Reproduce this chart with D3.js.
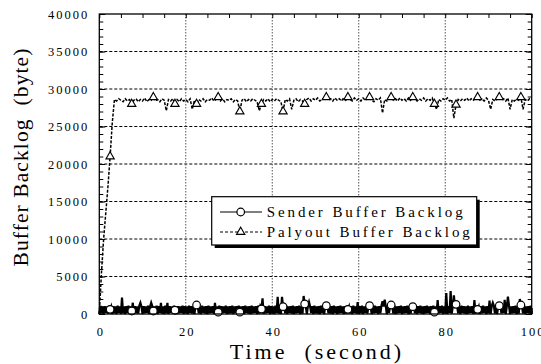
<!DOCTYPE html>
<html><head><meta charset="utf-8">
<script src="https://cdn.jsdelivr.net/npm/d3@7"></script>
<style>body{margin:0;background:#fff}svg{display:block}</style>
</head><body>
<svg id="c" width="541" height="364"></svg>
<script>
// ---- data ----
const seriesNames = ["Sender Buffer Backlog", "Palyout Buffer Backlog"];
const senderStep = 0.25;   // seconds between sender samples
const playoutStep = 0.5;   // seconds between playout samples
const xTicks = [0, 20, 40, 60, 80, 100];
const yTicks = [0, 5000, 10000, 15000, 20000, 25000, 30000, 35000, 40000];
const xTitle = "Time  (second)";
const yTitle = "Buffer Backlog  (byte)";

const senderValues = [
  0,1100,100,1000,0,1050,150,1000,50,1100, 620,1000,0,1050,100,1000,0,1100,150,1000,
  0,2200,100,1000,0,1050,150,1100,50,1000, 400,1500,0,1050,100,1000,50,1100,1500,1000,
  0,1050,100,1000,150,1100,0,1000,1500,1050, 400,1000,100,1100,0,1050,150,1500,50,1000,
  0,1100,100,1500,0,1050,150,1000,50,1100, 500,1000,0,1050,100,1000,150,1100,0,1050,
  100,1000,0,1100,150,1050,50,1000,0,1100, 1200,1050,100,1000,0,1100,150,1000,50,1050,
  0,1100,100,1000,150,1050,0,1500,50,1000, 250,1100,0,1050,100,1000,150,1100,0,1000,
  50,1050,100,1100,0,1000,150,1050,0,1100, 250,1000,100,1050,0,1100,150,1000,50,1050,
  0,1100,100,1000,150,1050,0,1100,50,1000, 670,2100,0,1050,100,1000,150,1100,0,1050,
  100,1000,0,1100,150,2300,50,1000,0,2300, 980,1050,100,1100,0,1000,150,1050,50,1100,
  0,1000,100,1050,150,1100,0,1000,50,2400, 1340,1050,0,1100,1600,1000,150,1050,0,1100,
  100,1000,50,1050,0,1100,150,1000,0,1050, 1110,1100,100,1000,50,1050,0,1100,150,1000,
  0,1050,100,1100,150,1000,0,1050,50,1100, 620,1000,100,1050,0,1100,150,1000,50,1600,
  0,1050,100,1100,0,1000,150,1050,50,1100, 1110,1000,0,1050,100,1100,150,1000,0,1050,
  100,1100,1700,1000,1900,1050,0,1100,150,1000, 1200,1050,50,1100,0,1000,100,1050,150,1100,
  0,1000,100,1050,150,1100,0,1000,50,1050, 980,1100,100,1000,0,1050,150,1100,50,1000,
  0,1050,100,1100,150,1000,0,1050,50,1100, 250,1000,0,1870,100,1050,150,1100,0,1000,
  100,2800,0,1050,150,3070,50,1000,2500,1100, 1290,1050,100,1000,0,1100,150,1050,50,1000,
  0,1100,100,1000,150,1050,0,1870,50,1100, 620,1000,0,1050,100,1100,150,1000,0,1050,
  100,1800,0,1050,1500,1100,50,1000,0,1050, 1110,1100,100,1000,150,1900,0,1050,2300,1100,
  0,1000,100,1050,150,1100,0,1000,50,2000, 1200,1050,100,1100,0,1000,150,1050,50,1100,
  0
];

const playoutValues = [
  0,5500,10000,13500,17000,21000,25500,28600,28400,28700,
  28500,28300,28700,28400,28600,28000,28500,28700,28300,28600,
  28400,28800,28300,28600,28500,28900,28400,28600,28300,28700,
  28500,27100,28600,28400,28700,28000,28600,28300,28700,28400,
  28600,28300,28700,27300,28500,28000,28600,28400,28700,28300,
  28600,28500,28800,28400,28600,28900,28400,28700,28300,28600,
  28500,28700,28300,28600,28400,27000,28500,28700,28300,28600,
  28400,28700,28500,28300,27100,28000,28600,28400,28700,28300,
  28600,28400,28700,28500,28300,27000,28600,28400,28700,27300,
  28500,28700,28300,28600,28400,28000,28600,28800,28400,28700,
  28500,28800,28400,28600,28800,28900,28500,28700,28400,28800,
  28500,28700,28400,28800,28500,28900,28600,28400,28800,28500,
  28700,28400,28800,28500,28700,28900,28500,28300,28700,28500,
  28800,26800,28600,28400,28700,28900,28500,28700,28400,28800,
  28500,28700,28400,28800,28500,28900,28600,28400,28700,28500,
  28800,28400,28700,28500,28800,28000,27300,28600,28400,28700,
  28500,28800,28400,28600,26100,27900,28600,28400,28700,28500,
  28800,28400,28700,28500,28800,28900,28500,28700,28400,28800,
  28500,27300,28600,28400,28700,28900,28500,28700,28400,28800,
  27300,28600,28400,28700,28500,28900,27300,28600,28400,28700,
  28500
];
const senderMarkerIndex = [10,30,50,70,90,110,130,150,170,190,210,230,250,270,290,310,330,350,370,390];
const playoutMarkerIndex = [5,15,25,35,45,55,65,75,85,95,105,115,125,135,145,155,165,175,185,195];

// ---- chart ----
const svg = d3.select("#c");
const L = 99.3, R = 531.7, T = 14, B = 314;
const x = d3.scaleLinear().domain([0, 100]).range([L, R]);
const y = d3.scaleLinear().domain([0, 40000]).range([B, T]);
const serif = "'Liberation Serif','Times New Roman',serif";

const sender = senderValues.map((v, i) => ({t: i * senderStep, v}));
const playout = playoutValues.map((v, i) => ({t: i * playoutStep, v}));

// grid
const grid = svg.append("g");
grid.selectAll("line.h").data(yTicks.filter(d => d > 0 && d < 40000)).join("line")
  .attr("x1", L).attr("x2", R).attr("y1", d => y(d)).attr("y2", d => y(d))
  .attr("stroke", "#000").attr("stroke-width", 1).attr("stroke-dasharray", "3,2");
grid.selectAll("line.v").data(xTicks.filter(d => d > 0 && d < 100)).join("line")
  .attr("y1", T).attr("y2", B).attr("x1", d => x(d)).attr("x2", d => x(d))
  .attr("stroke", "#555").attr("stroke-width", 1).attr("stroke-dasharray", "1.5,1.5");

// lines
const line = d3.line().x(d => x(d.t)).y(d => y(d.v));
svg.append("path").datum(playout).attr("d", line).attr("fill", "none")
  .attr("stroke", "#000").attr("stroke-width", 1.5).attr("stroke-dasharray", "3,1.5");
svg.append("path").datum(sender).attr("d", line).attr("fill", "none")
  .attr("stroke", "#000").attr("stroke-width", 2.2);

// markers
const tri = d3.symbol().type(d3.symbolTriangle).size(30);
svg.append("g").selectAll("path").data(playoutMarkerIndex.map(i => playout[i])).join("path")
  .attr("d", tri).attr("transform", d => `translate(${x(d.t)},${y(d.v)})`)
  .attr("fill", "#fff").attr("stroke", "#000").attr("stroke-width", 1.1);
svg.append("g").selectAll("circle").data(senderMarkerIndex.map(i => sender[i])).join("circle")
  .attr("cx", d => x(d.t)).attr("cy", d => y(d.v)).attr("r", 3.8)
  .attr("fill", "#fff").attr("stroke", "#000").attr("stroke-width", 1.2);

// axes
function styleAxis(g, fs, ls) {
  g.select(".domain").remove();
  g.selectAll("text").attr("font-family", serif).attr("font-size", fs)
    .attr("letter-spacing", ls).attr("fill", "#000");
  g.selectAll("line").attr("stroke", "#000").attr("stroke-width", 1);
}
const yMinor = d3.range(0, 40001, 1000);
const xMinor = d3.range(0, 101, 5);
svg.append("g").attr("transform", `translate(${L},0)`)
  .call(d3.axisLeft(y).tickValues(yMinor).tickSize(-4).tickFormat(""))
  .call(g => styleAxis(g, 12, 2));
svg.append("g").attr("transform", `translate(${R},0)`)
  .call(d3.axisRight(y).tickValues(yMinor).tickSize(-4).tickFormat(""))
  .call(g => styleAxis(g, 12, 2));
svg.append("g").attr("transform", `translate(0,${T})`)
  .call(d3.axisTop(x).tickValues(xMinor).tickSize(-4).tickFormat(""))
  .call(g => styleAxis(g, 12, 2));
svg.append("g").attr("transform", `translate(${L},0)`)
  .call(d3.axisLeft(y).tickValues(yTicks).tickSizeInner(-6).tickSizeOuter(0).tickPadding(10).tickFormat(d3.format("d")))
  .call(g => styleAxis(g, 12.5, 2));
svg.append("g").attr("transform", `translate(${R},0)`)
  .call(d3.axisRight(y).tickValues(yTicks).tickSizeInner(-6).tickSizeOuter(0).tickFormat(""))
  .call(g => styleAxis(g, 12, 2));
svg.append("g").attr("transform", `translate(0,${B})`)
  .call(d3.axisBottom(x).tickValues(xTicks).tickSizeInner(-6).tickSizeOuter(0).tickPadding(13).tickFormat(d3.format("d")))
  .call(g => { styleAxis(g, 12.5, 2); g.selectAll("text").attr("dx", 1); });

// frame
svg.append("rect").attr("x", L).attr("y", T).attr("width", R - L).attr("height", B - T)
  .attr("fill", "none").attr("stroke", "#000").attr("stroke-width", 1.3);

// titles
svg.append("text").attr("x", (L + R) / 2 + 1.5).attr("y", 359).attr("text-anchor", "middle")
  .attr("font-family", serif).attr("font-size", 22).attr("letter-spacing", 3)
  .style("white-space", "pre").text(xTitle);
svg.append("text").attr("transform", "translate(28,157) rotate(-90)").attr("text-anchor", "middle")
  .attr("font-family", serif).attr("font-size", 21.5).attr("letter-spacing", 1.1)
  .style("white-space", "pre").text(yTitle);

// legend
const lg = svg.append("g");
const bx = 211.7, by = 196.7, bw = 265, bh = 48.3;
lg.append("rect").attr("x", bx + 3).attr("y", by + 3).attr("width", bw).attr("height", bh).attr("fill", "#000");
lg.append("rect").attr("x", bx).attr("y", by).attr("width", bw).attr("height", bh)
  .attr("fill", "#fff").attr("stroke", "#000").attr("stroke-width", 1.2);
const rows = [212, 232];
seriesNames.forEach((name, i) => {
  const ry = rows[i];
  lg.append("line").attr("x1", 220).attr("x2", 262).attr("y1", ry).attr("y2", ry)
    .attr("stroke", "#000").attr("stroke-width", 1.2)
    .attr("stroke-dasharray", i === 1 ? "3,2" : null);
  if (i === 0) {
    lg.append("circle").attr("cx", 240.7).attr("cy", ry).attr("r", 3.8)
      .attr("fill", "#fff").attr("stroke", "#000").attr("stroke-width", 1.2);
  } else {
    lg.append("path").attr("d", tri).attr("transform", `translate(240.7,${ry})`)
      .attr("fill", "#fff").attr("stroke", "#000").attr("stroke-width", 1.1);
  }
  lg.append("text").attr("x", 266.7).attr("y", ry + 5.3)
    .attr("font-family", serif).attr("font-size", 15).attr("letter-spacing", 2.9)
    .text(name);
});
</script>
</body></html>
